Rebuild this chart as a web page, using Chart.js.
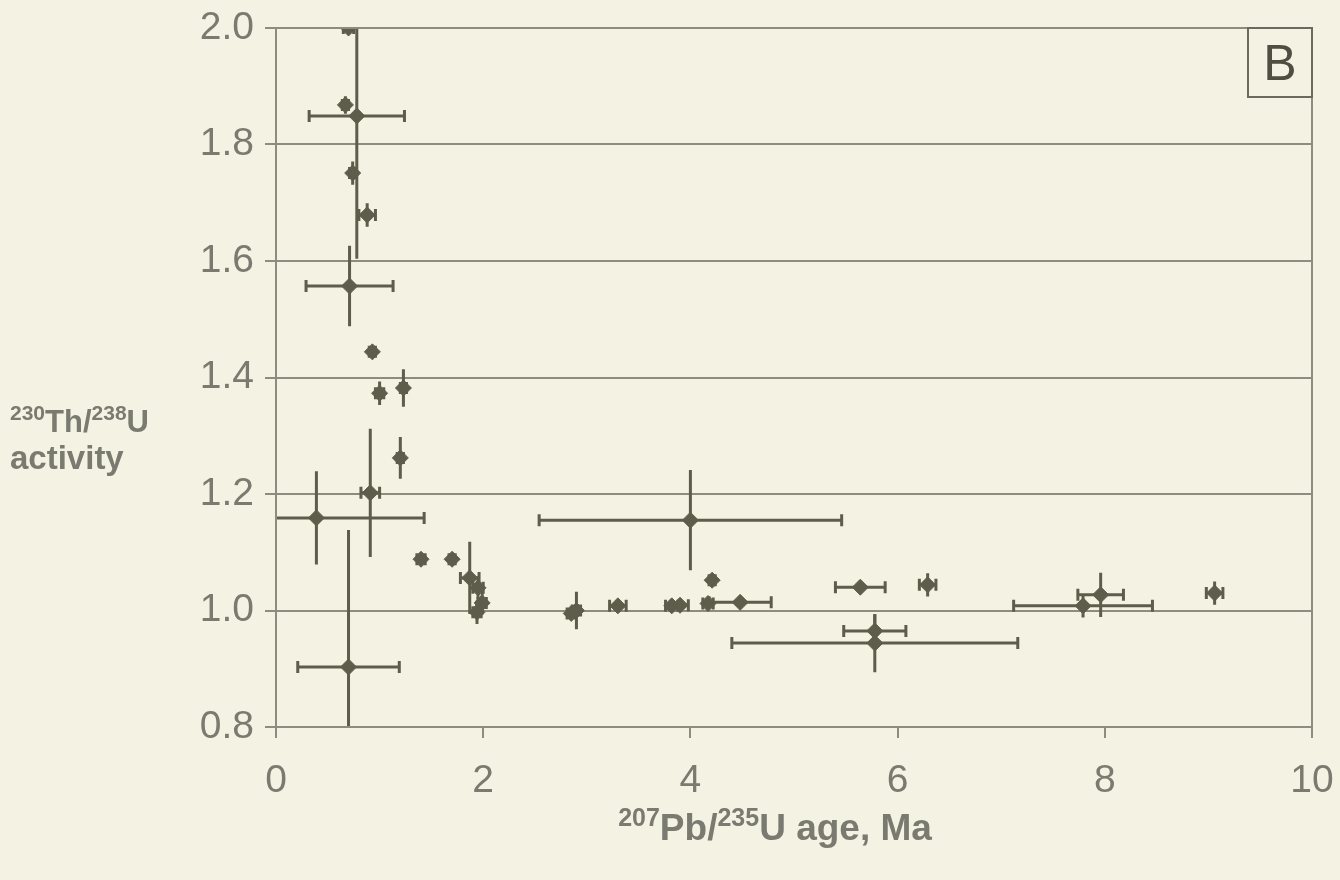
<!DOCTYPE html>
<html>
<head>
<meta charset="utf-8">
<script src="https://cdn.jsdelivr.net/npm/chart.js@4.4.1/dist/chart.umd.min.js"></script>
<style>
  html, body { margin: 0; padding: 0; background: #f4f2e2; }
  #wrap { width: 1340px; height: 880px; position: relative; }
</style>
</head>
<body>
<div id="wrap"><canvas id="chart"></canvas></div>
<script>
// 207Pb/235U age (Ma) and 230Th/238U activity, with 1-sigma style errors
const ages     = [0.70, 0.67, 0.78, 0.74, 0.88, 0.71, 0.93, 1.00, 1.23, 1.20, 0.91, 0.39, 0.70, 1.40, 1.70, 1.87, 1.95, 1.99, 1.94, 4.00, 2.85, 2.90, 3.30, 3.82, 3.90, 4.21, 4.17, 4.48, 5.64, 6.29, 5.78, 5.78, 7.96, 7.79, 9.06];
const activity = [2.000, 1.868, 1.849, 1.751, 1.679, 1.557, 1.444, 1.373, 1.382, 1.262, 1.202, 1.159, 0.903, 1.088, 1.088, 1.056, 1.039, 1.013, 0.997, 1.155, 0.995, 1.000, 1.008, 1.008, 1.009, 1.052, 1.012, 1.014, 1.040, 1.044, 0.965, 0.944, 1.027, 1.008, 1.030];
const ageErr   = [0.05, 0.03, 0.46, 0.03, 0.08, 0.42, 0.03, 0.04, 0.03, 0.03, 0.09, 1.04, 0.49, 0.04, 0.03, 0.09, 0.05, 0.04, 0.04, 1.46, 0.04, 0.04, 0.08, 0.06, 0.08, 0.03, 0.05, 0.30, 0.24, 0.08, 0.30, 1.38, 0.22, 0.67, 0.08];
const actErr   = [0.005, 0.015, 0.245, 0.02, 0.02, 0.069, 0.01, 0.02, 0.032, 0.036, 0.11, 0.08, 0.235, 0.01, 0.01, 0.062, 0.02, 0.02, 0.02, 0.086, 0.01, 0.032, 0.01, 0.01, 0.01, 0.01, 0.01, 0.01, 0.01, 0.02, 0.028, 0.05, 0.038, 0.02, 0.02];

const xTicks = [0, 2, 4, 6, 8, 10];
const yTicks = [0.8, 1.0, 1.2, 1.4, 1.6, 1.8, 2.0];

const ink = '#5e5d4c';
const gridColor = '#8d8c7e';
const labelColor = '#7a7a70';

const points = ages.map((a, i) => ({ x: a, y: activity[i] }));

// error bars, clipped to the plot area
const errorBars = {
    id: 'errorBars',
    beforeDatasetsDraw(chart) {
        const { ctx, chartArea: ca, scales: { x, y } } = chart;
        const cap = 6;
        ctx.save();
        ctx.beginPath();
        ctx.rect(ca.left, ca.top, ca.right - ca.left, ca.bottom - ca.top);
        ctx.clip();
        ctx.strokeStyle = ink;
        ctx.lineWidth = 3;
        ages.forEach((a, i) => {
            const px = x.getPixelForValue(a), py = y.getPixelForValue(activity[i]);
            const x0 = x.getPixelForValue(a - ageErr[i]), x1 = x.getPixelForValue(a + ageErr[i]);
            const y0 = y.getPixelForValue(activity[i] - actErr[i]), y1 = y.getPixelForValue(activity[i] + actErr[i]);
            ctx.beginPath();
            ctx.moveTo(x0, py); ctx.lineTo(x1, py);
            if (x0 > ca.left) { ctx.moveTo(x0, py - cap); ctx.lineTo(x0, py + cap); }
            if (x1 < ca.right) { ctx.moveTo(x1, py - cap); ctx.lineTo(x1, py + cap); }
            ctx.moveTo(px, y0); ctx.lineTo(px, y1);
            ctx.stroke();
        });
        ctx.restore();
    }
};

function supText(ctx, parts, x, y, big, small) {
    // parts: [text, isSup]
    let cx = x;
    parts.forEach(([t, sup]) => {
        ctx.font = 'bold ' + (sup ? small : big) + 'px "Liberation Sans", Arial, sans-serif';
        ctx.fillText(t, cx, sup ? y - big * 0.38 : y);
        cx += ctx.measureText(t).width;
    });
    return cx - x;
}

function measureSup(ctx, parts, big, small) {
    let w = 0;
    parts.forEach(([t, sup]) => {
        ctx.font = 'bold ' + (sup ? small : big) + 'px "Liberation Sans", Arial, sans-serif';
        w += ctx.measureText(t).width;
    });
    return w;
}

const decorations = {
    id: 'decorations',
    afterDraw(chart) {
        const { ctx, chartArea: ca } = chart;
        ctx.save();
        // frame
        ctx.strokeStyle = gridColor;
        ctx.lineWidth = 2;
        ctx.strokeRect(ca.left, ca.top, ca.right - ca.left, ca.bottom - ca.top);

        // panel letter
        ctx.strokeStyle = '#6a6a5e';
        ctx.lineWidth = 2;
        ctx.strokeRect(ca.right - 64, ca.top, 64, 69);
        ctx.fillStyle = '#4f4e42';
        ctx.font = '50px "Liberation Sans", Arial, sans-serif';
        ctx.textAlign = 'center';
        ctx.textBaseline = 'alphabetic';
        ctx.fillText('B', ca.right - 32, ca.top + 52);

        // axis titles
        ctx.textAlign = 'left';
        ctx.fillStyle = labelColor;
        supText(ctx, [['230', true], ['Th/', false], ['238', true], ['U', false]], 10, 432, 31, 21);
        ctx.font = 'bold 33px "Liberation Sans", Arial, sans-serif';
        ctx.fillText('activity', 10, 469);

        const xParts = [['207', true], ['Pb/', false], ['235', true], ['U age, Ma', false]];
        const w = measureSup(ctx, xParts, 37, 25);
        supText(ctx, xParts, 775 - w / 2, 840, 37, 25);
        ctx.restore();
    }
};

new Chart(document.getElementById('chart'), {
    type: 'scatter',
    data: {
        datasets: [{
            data: points,
            pointStyle: 'rectRot',
            pointRadius: 8,
            pointHoverRadius: 8,
            backgroundColor: ink,
            borderColor: ink,
            borderWidth: 1
        }]
    },
    options: {
        responsive: true,
        maintainAspectRatio: false,
        animation: false,
        events: [],
        layout: { padding: { top: 28, right: 28, left: 0, bottom: 0 } },
        plugins: { legend: { display: false }, tooltip: { enabled: false } },
        scales: {
            x: {
                type: 'linear',
                min: 0, max: 10,
                afterFit: s => { s.height = 153; s.paddingLeft = 0; s.paddingRight = 0; },
                afterBuildTicks: s => { s.ticks = xTicks.map(v => ({ value: v })); },
                ticks: {
                    color: labelColor,
                    font: { family: '"Liberation Sans", Arial, sans-serif', size: 39 },
                    padding: 20,
                    maxRotation: 0,
                    callback: v => String(v)
                },
                grid: { drawOnChartArea: false, drawTicks: true, tickLength: 11, color: gridColor, lineWidth: 2 },
                border: { display: true, color: gridColor, width: 2 }
            },
            y: {
                type: 'linear',
                min: 0.8, max: 2.0,
                afterFit: s => { s.width = 276; s.paddingTop = 0; s.paddingBottom = 0; },
                afterBuildTicks: s => { s.ticks = yTicks.map(v => ({ value: v })); },
                ticks: {
                    color: labelColor,
                    font: { family: '"Liberation Sans", Arial, sans-serif', size: 39 },
                    padding: 11,
                    callback: v => Number(v).toFixed(1)
                },
                grid: { drawOnChartArea: true, drawTicks: true, tickLength: 11, color: gridColor, lineWidth: 2 },
                border: { display: true, color: gridColor, width: 2 }
            }
        }
    },
    plugins: [errorBars, decorations]
});
</script>
</body>
</html>
